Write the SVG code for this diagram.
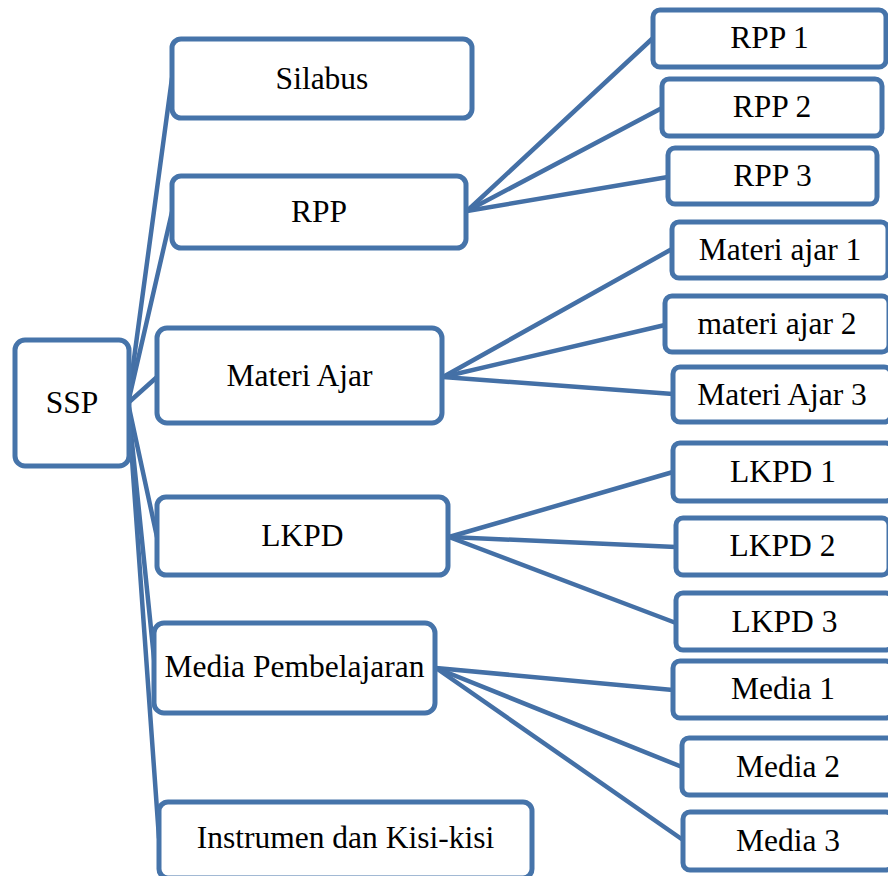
<svg xmlns="http://www.w3.org/2000/svg" width="888" height="876" viewBox="0 0 888 876">
<style>
.box{fill:#ffffff;stroke:#4674AA;stroke-width:5}
.ln{stroke:#4470A6;stroke-width:4.5;fill:none;stroke-linecap:round}
text{font-family:"Liberation Serif","Times New Roman",serif;font-size:31.5px;fill:#000;text-anchor:middle}
</style>
<rect width="888" height="876" fill="#ffffff"/>
<g id="connectors">
<line class="ln" x1="128" y1="403" x2="172" y2="78"/>
<line class="ln" x1="128" y1="403" x2="172" y2="212"/>
<line class="ln" x1="128" y1="403" x2="157" y2="377"/>
<line class="ln" x1="128" y1="403" x2="157" y2="537"/>
<line class="ln" x1="128" y1="403" x2="155" y2="668"/>
<line class="ln" x1="128" y1="403" x2="159" y2="838"/>
<line class="ln" x1="467" y1="211" x2="653" y2="38"/>
<line class="ln" x1="467" y1="211" x2="662" y2="108"/>
<line class="ln" x1="467" y1="211" x2="668" y2="177"/>
<line class="ln" x1="443" y1="377" x2="672" y2="249"/>
<line class="ln" x1="443" y1="377" x2="665" y2="325"/>
<line class="ln" x1="443" y1="377" x2="673" y2="394"/>
<line class="ln" x1="449" y1="537" x2="673" y2="472"/>
<line class="ln" x1="449" y1="537" x2="676" y2="547"/>
<line class="ln" x1="449" y1="537" x2="676" y2="623"/>
<line class="ln" x1="436" y1="668" x2="673" y2="690"/>
<line class="ln" x1="436" y1="668" x2="682" y2="767"/>
<line class="ln" x1="436" y1="668" x2="683" y2="840"/>
</g>
<g id="ssp"><rect class="box" x="15" y="340" width="114" height="126" rx="10"/><text x="72" y="413">SSP</text></g>
<g id="silabus"><rect class="box" x="172" y="39" width="300" height="79" rx="9"/><text x="322" y="89">Silabus</text></g>
<g id="rpp"><rect class="box" x="172" y="176" width="294" height="72" rx="9"/><text x="319" y="222">RPP</text></g>
<g id="materi"><rect class="box" x="157" y="328" width="285" height="95" rx="10"/><text x="299.5" y="386">Materi Ajar</text></g>
<g id="lkpd"><rect class="box" x="157" y="497" width="291" height="78" rx="9"/><text x="302.5" y="546">LKPD</text></g>
<g id="media"><rect class="box" x="154" y="623" width="281" height="90" rx="10"/><text x="294.5" y="677">Media Pembelajaran</text></g>
<g id="instrumen"><rect class="box" x="159" y="802" width="373" height="76" rx="9"/><text x="345.5" y="848">Instrumen dan Kisi-kisi</text></g>
<g id="rpp1"><rect class="box" x="653" y="10" width="233" height="57" rx="7"/><text x="769.5" y="48">RPP 1</text></g>
<g id="rpp2"><rect class="box" x="662" y="79" width="220" height="57" rx="7"/><text x="772" y="117">RPP 2</text></g>
<g id="rpp3"><rect class="box" x="668" y="148" width="209" height="56" rx="7"/><text x="772.5" y="186">RPP 3</text></g>
<g id="materi1"><rect class="box" x="672" y="222" width="216" height="56" rx="7"/><text x="780" y="260">Materi ajar 1</text></g>
<g id="materi2"><rect class="box" x="665" y="296" width="224" height="56" rx="7"/><text x="777" y="334">materi ajar 2</text></g>
<g id="materi3"><rect class="box" x="673" y="367" width="218" height="55" rx="7"/><text x="782" y="405">Materi Ajar 3</text></g>
<g id="lkpd1"><rect class="box" x="673" y="443" width="220" height="58" rx="7"/><text x="783" y="482">LKPD 1</text></g>
<g id="lkpd2"><rect class="box" x="676" y="518" width="213" height="57" rx="7"/><text x="782.5" y="556">LKPD 2</text></g>
<g id="lkpd3"><rect class="box" x="676" y="593" width="217" height="57" rx="7"/><text x="784.5" y="632">LKPD 3</text></g>
<g id="media1"><rect class="box" x="673" y="661" width="220" height="57" rx="7"/><text x="783" y="699">Media 1</text></g>
<g id="media2"><rect class="box" x="682" y="738" width="212" height="57" rx="7"/><text x="788" y="777">Media 2</text></g>
<g id="media3"><rect class="box" x="683" y="812" width="210" height="58" rx="7"/><text x="788" y="851">Media 3</text></g>
</svg>
